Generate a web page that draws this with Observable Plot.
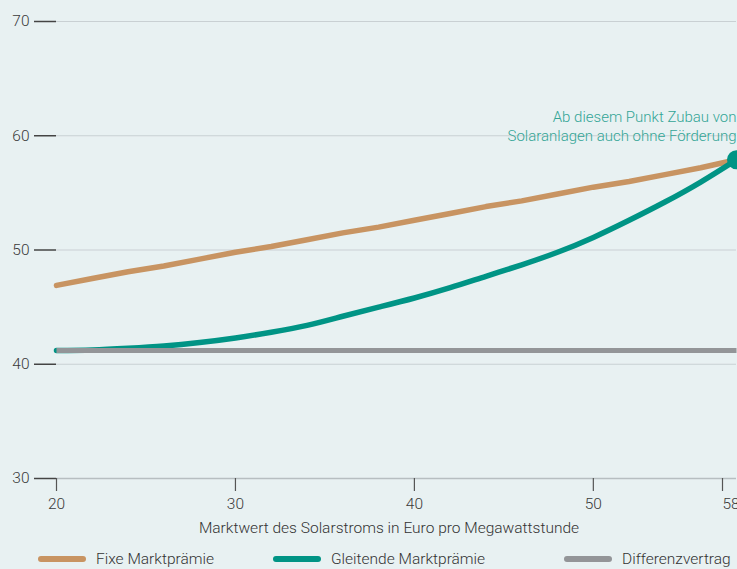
<!DOCTYPE html>
<html>
<head>
<meta charset="utf-8">
<script src="https://cdn.jsdelivr.net/npm/d3@7"></script>
<script src="https://cdn.jsdelivr.net/npm/@observablehq/plot@0.6"></script>
<style>
  html, body { margin: 0; padding: 0; background: #e8f1f2; overflow: hidden; }
  body { width: 737px; height: 569px; position: relative; font-family: "Roboto", sans-serif; font-weight: 300; color: #3c3c3c; }
  #chart { position: absolute; left: 0; top: 0; }
  #title { position: absolute; top: 518px; left: 189px; width: 400px; text-align: center; font-size: 15.5px; line-height: 20px; color: #333; white-space: nowrap; }
  .leg { position: absolute; top: 549px; font-size: 15.5px; line-height: 20px; color: #333; white-space: nowrap; }
  .sw { position: absolute; width: 48px; height: 6px; border-radius: 3px; top: 556px; }
</style>
</head>
<body>
<div id="chart"></div>
<div id="title">Marktwert des Solarstroms in Euro pro Megawattstunde</div>
<div id="legend"></div>
<script>
// Data
const marktwert = [20, 22, 24, 26, 28, 30, 32, 34, 36, 38, 40, 42, 44, 46, 48, 50, 52, 54, 56, 58];
const fixe = [46.9, 47.5, 48.1, 48.6, 49.2, 49.8, 50.3, 50.9, 51.5, 52.0, 52.6, 53.2, 53.8, 54.3, 54.9, 55.5, 56.0, 56.6, 57.2, 57.9];
const gleitend = [41.2, 41.25, 41.4, 41.6, 41.9, 42.3, 42.8, 43.4, 44.2, 45.0, 45.8, 46.7, 47.7, 48.7, 49.8, 51.1, 52.6, 54.2, 55.95, 57.9];
const differenz = [41.2, 41.2, 41.2, 41.2, 41.2, 41.2, 41.2, 41.2, 41.2, 41.2, 41.2, 41.2, 41.2, 41.2, 41.2, 41.2, 41.2, 41.2, 41.2, 41.2];
const xTicks = [20, 30, 40, 50];
const xTickLast = [58];
const yTicks = [30, 40, 50, 60, 70];
const seriesNames = ["Fixe Marktprämie", "Gleitende Marktprämie", "Differenzvertrag"];
const seriesColors = ["#c89462", "#009485", "#939598"];
const punkt = [{x: 58, y: 57.9, text: "Ab diesem Punkt Zubau von\nSolaranlagen auch ohne Förderung"}];

const rows = (vals) => marktwert.map((x, i) => ({x, y: vals[i]}));

const chart = Plot.plot({
  width: 737,
  height: 540,
  marginLeft: 56,
  marginRight: 1,
  marginTop: 21,
  marginBottom: 62,
  style: {background: "transparent", fontFamily: "Roboto, sans-serif", fontSize: "15px", color: "#3a3a3a"},
  x: {domain: [20, 58]},
  y: {domain: [30, 70]},
  marks: [
    Plot.ruleY(yTicks.filter(d => d !== 30), {stroke: "#c9d0d3", strokeWidth: 1.2}),
    Plot.ruleY([30], {stroke: "#b7bec1", strokeWidth: 1.5}),
    Plot.axisY({ticks: yTicks, tickSize: 22, tickPadding: 5, stroke: "#444", strokeWidth: 1.5, label: null, fontSize: 15.5, fontWeight: 300}),
    Plot.axisX({ticks: xTicks, tickSize: 13, tickPadding: 6, stroke: "#555", strokeWidth: 1.2, label: null, fontSize: 15.5, fontWeight: 300}),
    Plot.axisX({ticks: xTickLast, tickSize: 13, tickPadding: 6, stroke: "#555", strokeWidth: 1.2, label: null, fontSize: 15.5, fontWeight: 300, textAnchor: "start", dx: -14}),
    Plot.line(rows(fixe), {x: "x", y: "y", stroke: seriesColors[0], strokeWidth: 5.5, curve: "linear"}),
    Plot.line(rows(gleitend), {x: "x", y: "y", stroke: seriesColors[1], strokeWidth: 5.5, curve: "natural"}),
    Plot.line(rows(differenz), {x: "x", y: "y", stroke: seriesColors[2], strokeWidth: 5, strokeLinecap: "butt"}),
    Plot.dot(punkt, {x: "x", y: "y", r: 9.5, fill: seriesColors[1]}),
    Plot.text(punkt, {x: "x", y: "y", text: "text", textAnchor: "end", lineAnchor: "middle", dy: -34, lineHeight: 1.22, fill: "#33a596", fontSize: 15, fontWeight: 300})
  ]
});
document.getElementById("chart").appendChild(chart);

const legend = document.getElementById("legend");
const swX = [38, 273, 564];
seriesNames.forEach((name, i) => {
  const sw = document.createElement("div");
  sw.className = "sw";
  sw.style.left = swX[i] + "px";
  sw.style.background = seriesColors[i];
  legend.appendChild(sw);
  const lb = document.createElement("div");
  lb.className = "leg";
  lb.style.left = (swX[i] + 58) + "px";
  lb.textContent = name;
  legend.appendChild(lb);
});
</script>
</body>
</html>
